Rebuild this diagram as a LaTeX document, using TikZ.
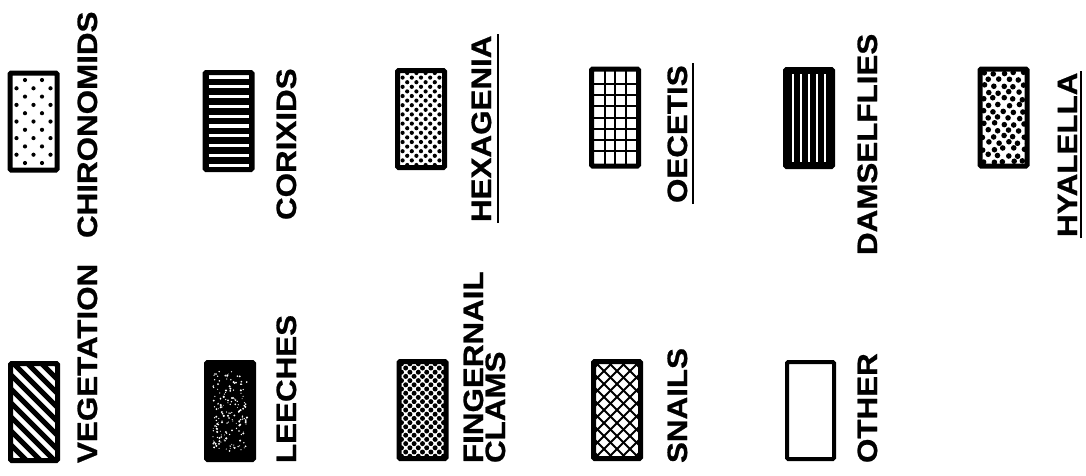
\documentclass[tikz,border=0pt]{standalone}
\usepackage{fontspec}
\newfontfamily\lblfont{Liberation Sans}[FakeStretch=1.12,FakeBold=0.8]
\newcommand\PC{path picture bounding box.center}
\tikzset{
  legbox/.style={draw, line width=5pt, rounded corners=1.2pt, minimum width=47pt, minimum height=97pt, inner sep=0pt, outer sep=0pt},
  lbl/.style={rotate=90, anchor=base west, inner sep=0pt, outer sep=0pt, font=\lblfont\bfseries\fontsize{28}{30}\selectfont},
  uline/.style={line width=2pt},
  vegpat/.style={path picture={
    \foreach \k in {-6,...,6}{\draw[line width=5pt] ([shift={({\k*14-60},-60)}]\PC) -- ++(120,120);}}},
  chirpat/.style={path picture={
    \foreach \r in {0,...,10}{\foreach \c in {0,...,3}{
      \fill ([shift={({\c*17-25.5+mod(\r,2)*8.5},{\r*8.3-41.5})}]\PC) circle[radius=2.1pt];}}}},
  leechpat/.style={fill=black, path picture={
    \foreach \i in {1,...,170}{\fill[white] ([shift={({rnd*34-17},{rnd*80-40})}]\PC) circle[radius={0.4pt+rnd*0.8pt}];}}},
  corixpat/.style={fill=black, path picture={
    \foreach \k in {0,...,9}{\draw[white,line width=3.2pt] ([shift={(-20,{\k*9.8-44.1})}]\PC) -- ++(40,0);}}},
  fingpat/.style={path picture={
    \foreach \r in {0,...,24}{\foreach \c in {0,...,6}{
      \fill ([shift={({\c*8.4-25.2+mod(\r,2)*4.2},{\r*4.2-50.4})}]\PC) circle[radius=2.5pt];}}}},
  hexpat/.style={path picture={
    \foreach \r in {0,...,22}{\foreach \c in {0,...,6}{
      \fill ([shift={({\c*9.2-27.6+mod(\r,2)*4.6},{\r*4.6-50.6})}]\PC) circle[radius=2.1pt];}}}},
  snailpat/.style={path picture={
    \foreach \k in {-7,...,7}{
      \draw[line width=1.8pt] ([shift={({\k*13-60},-60)}]\PC) -- ++(120,120);
      \draw[line width=1.8pt] ([shift={({\k*13-60},60)}]\PC) -- ++(120,-120);}}},
  oecpat/.style={path picture={
    \foreach \x in {-10.5,0,10.5}{\draw[line width=2pt] ([shift={(\x,-50)}]\PC) -- ++(0,100);}
    \foreach \y in {-33.75,-22.5,-11.25,0,11.25,22.5,33.75}{\draw[line width=2pt] ([shift={(-30,\y)}]\PC) -- ++(60,0);}}},
  dampat/.style={fill=black, path picture={
    \foreach \x in {-16,-8,0,8,16}{\draw[white,line width=2.6pt] ([shift={(\x,-44)}]\PC) -- ++(0,88);}}},
  hyalpat/.style={path picture={
    \foreach \r in {0,...,16}{\foreach \c in {0,...,5}{
      \fill ([shift={({\c*10-25+mod(\r,2)*5+rnd*2.4-1.2},{\r*6.3-50.4+rnd*2.4-1.2})}]\PC) circle[radius=2.8pt];}}}},
}
\begin{document}
\begin{tikzpicture}[x=1pt,y=-1pt]
\pgfmathsetseed{7}
\fill[white] (0,0) rectangle (1086,475);
\useasboundingbox (0,0) rectangle (1086,475);
% column 1
\node[legbox,vegpat] (vegbox) at (34,412) {};
\node[lbl] (veg) at (97,463) {VEGETATION};
\node[legbox,chirpat] (chirbox) at (33.5,121.5) {};
\node[lbl] (chir) at (97,238) {CHIRONOMIDS};
% column 2
\node[legbox,leechpat] (leechbox) at (230,411) {};
\node[lbl] (leech) at (296,463) {LEECHES};
\node[legbox,corixpat] (corixbox) at (228.5,121) {};
\node[lbl] (corix) at (296,220) {CORIXIDS};
% column 3
\node[legbox,fingpat] (fingbox) at (422.5,410) {};
\node[lbl] (fing) at (483,463) {FINGERNAIL};
\node[lbl] (clams) at (505,463) {CLAMS};
\node[legbox,hexpat] (hexbox) at (421,119) {};
\node[lbl] (hex) at (491,222) {HEXAGENIA};
\draw[uline] ([xshift=7pt,yshift=-1pt]hex.south west) -- ([xshift=7pt,yshift=2pt]hex.south east);
% column 4
\node[legbox,snailpat] (snailbox) at (617,410) {};
\node[lbl] (snail) at (687,463) {SNAILS};
\node[legbox,oecpat] (oecbox) at (615,117.5) {};
\node[lbl] (oec) at (687,203) {OECETIS};
\draw[uline] ([xshift=6pt,yshift=-1pt]oec.south west) -- ([xshift=6pt,yshift=2pt]oec.south east);
% column 5
\node[legbox,line width=4pt] (otherbox) at (810.5,410.5) {};
\node[lbl] (other) at (877,463) {OTHER};
\node[legbox,dampat] (dambox) at (809,118) {};
\node[lbl] (dam) at (877,255) {DAMSELFLIES};
% column 6
\node[legbox,hyalpat] (hyalbox) at (1003.5,117.5) {};
\node[lbl] (hyal) at (1077,237) {HYALELLA};
\draw[uline] ([xshift=4pt,yshift=-1pt]hyal.south west) -- ([xshift=4pt,yshift=2pt]hyal.south east);
\end{tikzpicture}
\end{document}
